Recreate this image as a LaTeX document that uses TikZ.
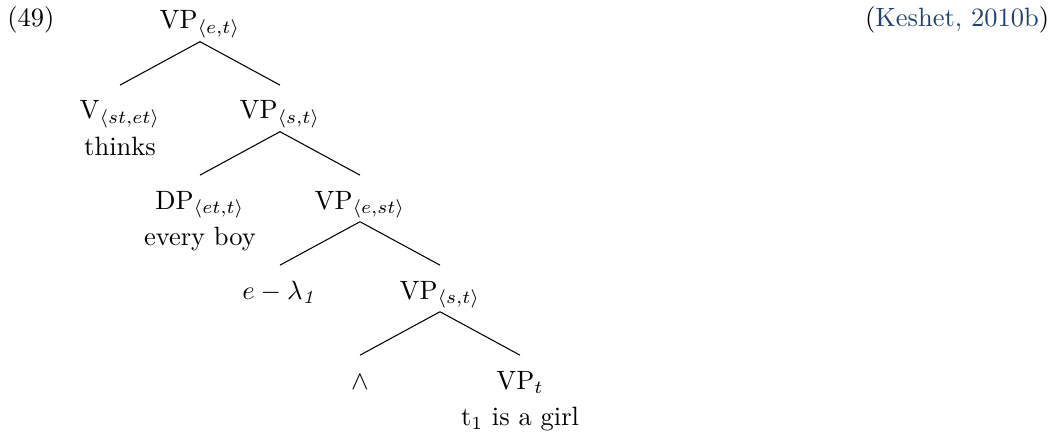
\documentclass[tikz,border=0pt]{standalone}
\usepackage{xcolor}
\definecolor{citeblue}{RGB}{33,64,115}
\begin{document}
\begin{tikzpicture}[x=1.062cm, y=1.195cm,
    cat/.style={anchor=base, inner ysep=2.6pt, text height=10pt, text depth=2pt},
    word/.style={anchor=base}]
    \useasboundingbox (0,0.322) rectangle (13.15,-4.511);

    % Example number and citation
    \node[anchor=base west, inner sep=0pt] (num) at (0.085,0.03) {(49)};
    \node[anchor=base east, inner sep=0pt] (cite) at (13.12,0.03) {(\textcolor{citeblue}{Keshet, 2010b})};

    % Categories
    \node[cat] (root) at (2.5,0) {VP$_{\langle e,t\rangle}$};
    \node[cat] (v) at (1.5,-1) {V$_{\langle st,et\rangle}$};
    \node[cat] (vpst) at (3.5,-1) {VP$_{\langle s,t\rangle}$};
    \node[cat] (dp) at (2.5,-2) {DP$_{\langle et,t\rangle}$};
    \node[cat] (vpest) at (4.5,-2) {VP$_{\langle e,st\rangle}$};
    \node[cat] (lam) at (3.5,-3) {$e-\lambda_{\mathit{1}}$};
    \node[cat] (vpsub) at (5.5,-3) {VP$_{\langle s,t\rangle}$};
    \node[cat] (conj) at (4.5,-4) {$\wedge$};
    \node[cat] (vpt) at (6.5,-4) {VP$_t$};

    % Words under the leaves
    \node[word] (thinks) at (1.5,-1.4) {thinks};
    \node[word] (boy) at (2.5,-2.4) {every boy};
    \node[word] (girl) at (6.5,-4.4) {t$_1$ is a girl};

    % Branches
    \draw (root.south) -- (v.north);
    \draw (root.south) -- (vpst.north);
    \draw (vpst.south) -- (dp.north);
    \draw (vpst.south) -- (vpest.north);
    \draw (vpest.south) -- (lam.north);
    \draw (vpest.south) -- (vpsub.north);
    \draw (vpsub.south) -- (conj.north);
    \draw (vpsub.south) -- (vpt.north);
\end{tikzpicture}
\end{document}
